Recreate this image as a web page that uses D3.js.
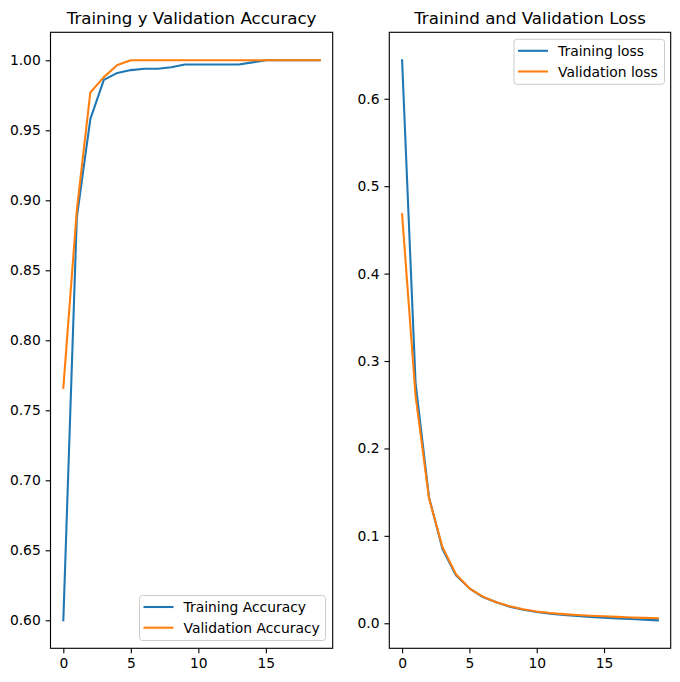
<!DOCTYPE html>
<html>
<head>
<meta charset="utf-8">
<script src="https://cdn.jsdelivr.net/npm/d3@7"></script>
<style>
  body { margin: 0; background: #fff; }
  svg { display: block; font-family: "DejaVu Sans", sans-serif; }
</style>
</head>
<body>
<svg id="chart" width="680" height="682"></svg>
<script>
const epochs = d3.range(20);
const trainAcc = [0.600, 0.888, 0.958, 0.986, 0.991, 0.993, 0.994, 0.994, 0.995, 0.997, 0.997, 0.997, 0.997, 0.997, 0.9985, 1.0, 1.0, 1.0, 1.0, 1.0];
const valAcc   = [0.766, 0.893, 0.977, 0.988, 0.9966, 1.0, 1.0, 1.0, 1.0, 1.0, 1.0, 1.0, 1.0, 1.0, 1.0, 1.0, 1.0, 1.0, 1.0, 1.0];
const trainLoss = [0.644, 0.275, 0.144, 0.085, 0.055, 0.040, 0.030, 0.024, 0.019, 0.0155, 0.013, 0.011, 0.0095, 0.0083, 0.0073, 0.0064, 0.0056, 0.0049, 0.0042, 0.0034];
const valLoss   = [0.468, 0.260, 0.143, 0.087, 0.056, 0.040, 0.0305, 0.024, 0.0195, 0.016, 0.0135, 0.0118, 0.0105, 0.0095, 0.0087, 0.008, 0.0073, 0.0067, 0.0062, 0.0057];
const xTicks = [0, 5, 10, 15];
const accTicks = [0.60, 0.65, 0.70, 0.75, 0.80, 0.85, 0.90, 0.95, 1.00];
const lossTicks = [0.0, 0.1, 0.2, 0.3, 0.4, 0.5, 0.6];
const titles = ["Training y Validation Accuracy", "Trainind and Validation Loss"];
const accLabels = ["Training Accuracy", "Validation Accuracy"];
const lossLabels = ["Training loss", "Validation loss"];
const colors = ["#1f77b4", "#ff7f0e"];

const svg = d3.select("#chart");

function panel(opts) {
  const {left, right, top, bottom, series, yTicks, yFmt, title, labels, legendPos} = opts;
  const g = svg.append("g");
  const allVals = series.flat();
  const ymin = d3.min(allVals), ymax = d3.max(allVals);
  const ym = (ymax - ymin) * 0.05;
  const x = d3.scaleLinear().domain([-0.95, 19.95]).range([left, right]);
  const y = d3.scaleLinear().domain([ymin - ym, ymax + ym]).range([bottom, top]);

  const line = d3.line().x((d, i) => x(epochs[i])).y(d => y(d));
  series.forEach((s, k) => {
    g.append("path").datum(s).attr("d", line)
      .attr("fill", "none").attr("stroke", colors[k]).attr("stroke-width", 2.08)
      .attr("stroke-linejoin", "round").attr("stroke-linecap", "square");
  });

  const xAxis = d3.axisBottom(x).tickValues(xTicks).tickFormat(d3.format("d")).tickSize(4.86).tickPadding(4.86);
  const yAxis = d3.axisLeft(y).tickValues(yTicks).tickFormat(yFmt).tickSize(4.86).tickPadding(4.86);
  const gx = g.append("g").attr("transform", `translate(0,${bottom})`).call(xAxis);
  const gy = g.append("g").attr("transform", `translate(${left},0)`).call(yAxis);
  [gx, gy].forEach(a => {
    a.select(".domain").remove();
    a.selectAll("line").attr("stroke", "#000").attr("stroke-width", 1.11);
    a.selectAll("text").attr("font-size", "13.89px").attr("fill", "#000")
      .attr("font-family", "DejaVu Sans, sans-serif");
  });

  g.append("rect").attr("x", left).attr("y", top)
    .attr("width", right - left).attr("height", bottom - top)
    .attr("fill", "none").attr("stroke", "#000").attr("stroke-width", 1.11);

  g.append("text").attr("x", (left + right) / 2).attr("y", top - 8)
    .attr("text-anchor", "middle").attr("font-size", "16.67px").attr("fill", "#000")
    .text(title);

  // legend
  const lg = g.append("g");
  lg.append("rect").attr("x", legendPos.x).attr("y", legendPos.y)
    .attr("width", legendPos.w).attr("height", legendPos.h)
    .attr("rx", 3).attr("fill", "#fff").attr("fill-opacity", 0.8)
    .attr("stroke", "#cccccc").attr("stroke-width", 1);
  labels.forEach((lab, k) => {
    const yy = legendPos.y + 11.5 + k * 20.7;
    lg.append("line").attr("x1", legendPos.x + 4).attr("x2", legendPos.x + 34)
      .attr("y1", yy).attr("y2", yy).attr("stroke", colors[k]).attr("stroke-width", 2.08);
    lg.append("text").attr("x", legendPos.x + 44).attr("y", yy + 5)
      .attr("font-size", "13.89px").attr("fill", "#000").text(lab);
  });
}

panel({left: 50.5, right: 332.7, top: 32.3, bottom: 648.3,
  series: [trainAcc, valAcc], yTicks: accTicks, yFmt: d3.format(".2f"),
  title: titles[0], labels: accLabels,
  legendPos: {x: 139.5, y: 595.5, w: 186, h: 45}});

panel({left: 389.3, right: 670.7, top: 32.3, bottom: 648.3,
  series: [trainLoss, valLoss], yTicks: lossTicks, yFmt: d3.format(".1f"),
  title: titles[1], labels: lossLabels,
  legendPos: {x: 514, y: 39.3, w: 150.5, h: 45}});
</script>
</body>
</html>
